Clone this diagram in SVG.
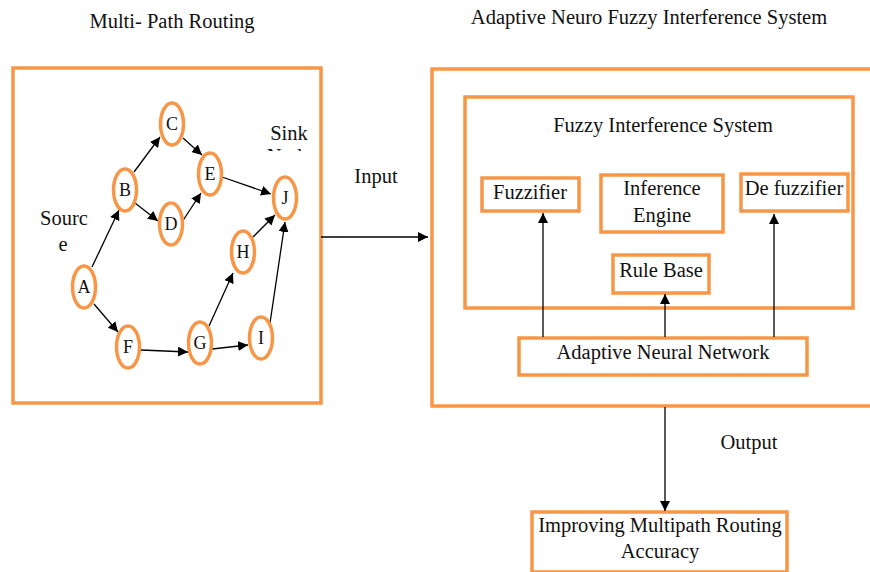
<svg xmlns="http://www.w3.org/2000/svg" width="870" height="572" viewBox="0 0 870 572">
  <style>
    .box { fill: none; stroke: #F79646; stroke-width: 3.5; }
    .node { fill: #ffffff; stroke: #F79646; stroke-width: 3.5; }
    text { font-family: "Liberation Serif", "DejaVu Serif", "Times New Roman", serif; font-size: 20.5px; fill: #111111; text-anchor: middle; }
    .nl { font-size: 18px; }
    .edge { stroke: #000000; stroke-width: 1.3; fill: none; marker-end: url(#ah); }
  </style>
  <defs>
    <marker id="ah" viewBox="0 0 10 10" refX="10" refY="5" markerWidth="10" markerHeight="10" markerUnits="userSpaceOnUse" orient="auto">
      <path d="M0,0 L10,5 L0,10 z" fill="#000000"/>
    </marker>
    <clipPath id="sinkClip">
      <rect x="260" y="142" width="60" height="9"/>
    </clipPath>
  </defs>
  <rect width="870" height="572" fill="#ffffff"/>

  <!-- titles -->
  <text x="172" y="28">Multi- Path Routing</text>
  <text x="649" y="24">Adaptive Neuro Fuzzy Interference System</text>

  <!-- left panel: multipath graph -->
  <g id="routing-panel">
    <rect class="box" x="13" y="68" width="308" height="335"/>
    <text x="64" y="225">Sourc</text>
    <text x="63" y="251">e</text>
    <text x="289" y="140">Sink</text>
    <text x="289" y="163" clip-path="url(#sinkClip)">Node</text>
  </g>

  <!-- right panel: ANFIS -->
  <g id="anfis">
    <rect class="box" x="432" y="69" width="445" height="337"/>
  </g>
  <g id="fis">
    <rect class="box" x="465" y="97" width="388" height="211"/>
    <text x="663" y="132">Fuzzy Interference System</text>
  </g>
  <g id="fuzzifier">
    <rect class="box" x="482" y="178" width="97" height="33"/>
    <text x="530" y="199">Fuzzifier</text>
  </g>
  <g id="inference-engine">
    <rect class="box" x="601" y="175" width="122" height="57"/>
    <text x="662" y="195">Inference</text>
    <text x="662" y="222">Engine</text>
  </g>
  <g id="defuzzifier">
    <rect class="box" x="741" y="174" width="107" height="37"/>
    <text x="794" y="195">De fuzzifier</text>
  </g>
  <g id="rule-base">
    <rect class="box" x="613" y="255" width="96" height="38"/>
    <text x="661" y="277">Rule Base</text>
  </g>
  <g id="neural-network">
    <rect class="box" x="519" y="338" width="288" height="37"/>
    <text x="663" y="359">Adaptive Neural Network</text>
  </g>

  <g id="result">
    <rect class="box" x="532" y="512" width="255" height="60"/>
    <text x="660" y="532">Improving Multipath Routing</text>
    <text x="660" y="558">Accuracy</text>
  </g>

  <text x="376" y="183">Input</text>
  <text x="749" y="449">Output</text>

  <g id="connectors">
    <line class="edge" x1="92" y1="267" x2="119" y2="210"/>
    <line class="edge" x1="94" y1="304" x2="118" y2="332"/>
    <line class="edge" x1="134" y1="172" x2="160" y2="137"/>
    <line class="edge" x1="135" y1="203" x2="158" y2="221"/>
    <line class="edge" x1="183" y1="138" x2="202" y2="155"/>
    <line class="edge" x1="182" y1="222" x2="201" y2="193"/>
    <line class="edge" x1="222" y1="177" x2="271" y2="194"/>
    <line class="edge" x1="141" y1="350" x2="188" y2="352"/>
    <line class="edge" x1="209" y1="326" x2="233" y2="273"/>
    <line class="edge" x1="212" y1="349" x2="248" y2="345"/>
    <line class="edge" x1="253" y1="237" x2="275" y2="215"/>
    <line class="edge" x1="270" y1="323" x2="285" y2="222"/>
    <!-- input / internal / output -->
    <line class="edge" x1="321" y1="237" x2="428" y2="237"/>
    <line class="edge" x1="543" y1="337" x2="543" y2="213"/>
    <line class="edge" x1="665" y1="337" x2="665" y2="294"/>
    <line class="edge" x1="774" y1="337" x2="774" y2="214"/>
    <line class="edge" x1="665" y1="407" x2="665" y2="511"/>
  </g>

  <g id="node-A"><ellipse class="node" cx="84" cy="287" rx="11.5" ry="21"/><text class="nl" x="84" y="293">A</text></g>
  <g id="node-B"><ellipse class="node" cx="125" cy="190" rx="11.5" ry="21"/><text class="nl" x="125" y="196">B</text></g>
  <g id="node-C"><ellipse class="node" cx="172" cy="124" rx="11.5" ry="21"/><text class="nl" x="172" y="130">C</text></g>
  <g id="node-D"><ellipse class="node" cx="171" cy="224" rx="11.5" ry="21"/><text class="nl" x="171" y="230">D</text></g>
  <g id="node-E"><ellipse class="node" cx="210" cy="174" rx="11.5" ry="21"/><text class="nl" x="210" y="180">E</text></g>
  <g id="node-F"><ellipse class="node" cx="128" cy="347" rx="11.5" ry="21"/><text class="nl" x="128" y="353">F</text></g>
  <g id="node-G"><ellipse class="node" cx="200" cy="343" rx="11.5" ry="21"/><text class="nl" x="200" y="349">G</text></g>
  <g id="node-H"><ellipse class="node" cx="243" cy="252" rx="11.5" ry="21"/><text class="nl" x="243" y="258">H</text></g>
  <g id="node-I"><ellipse class="node" cx="261" cy="338" rx="11.5" ry="21"/><text class="nl" x="261" y="344">I</text></g>
  <g id="node-J"><ellipse class="node" cx="285" cy="198" rx="11.5" ry="21"/><text class="nl" x="285" y="204">J</text></g>
</svg>
